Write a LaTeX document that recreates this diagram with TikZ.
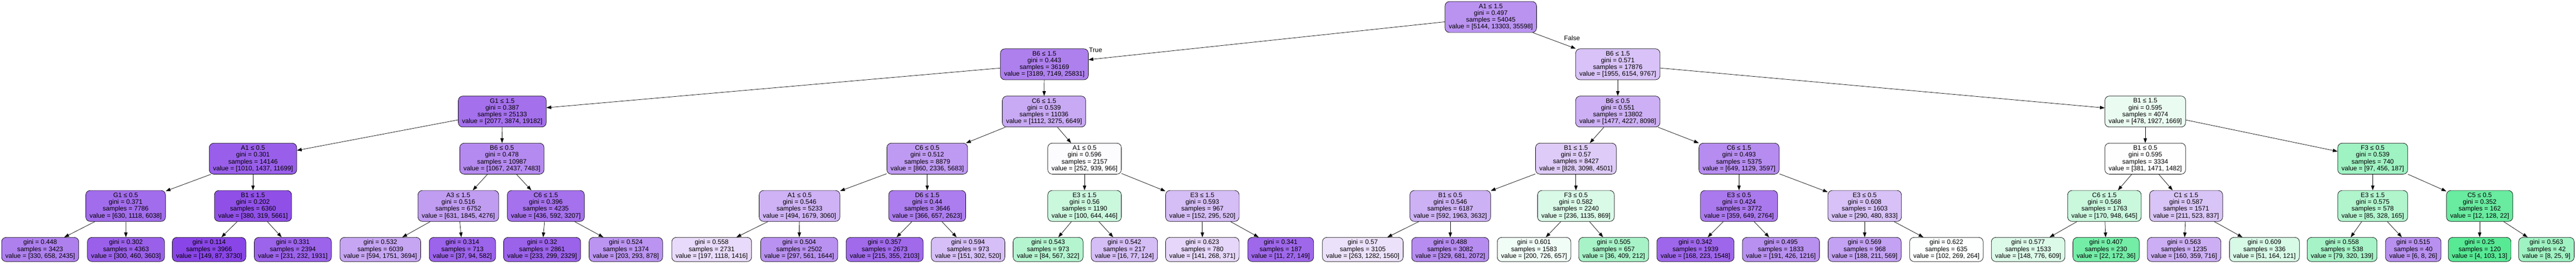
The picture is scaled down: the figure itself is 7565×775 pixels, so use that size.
\documentclass[tikz,border=0pt]{standalone}
\usepackage{fontspec}
\setmainfont{Liberation Sans}
\usetikzlibrary{arrows.meta}
\definecolor{clsA}{RGB}{229,129,57}
\definecolor{clsB}{RGB}{57,229,129}
\definecolor{clsC}{RGB}{129,57,229}
\tikzset{
  vals/.code args={#1/#2/#3}{%
    \edef\vmax{\fpeval{max(#1,#2,#3)}}%
    \edef\vmid{\fpeval{#1+#2+#3-max(#1,#2,#3)-min(#1,#2,#3)}}%
    \edef\vpct{\fpeval{round(100*(\vmax-\vmid)/(#1+#2+#3-\vmid),2)}}%
    \ifnum\fpeval{#1>=max(#2,#3)}=1 \def\vcls{clsA}\else
      \ifnum\fpeval{#2>=#3}=1 \def\vcls{clsB}\else\def\vcls{clsC}\fi\fi
    \edef\vtmp{\noexpand\pgfkeysalso{fill=\vcls!\vpct!white}}\vtmp},
  treebox/.style={draw=black, line width=1.1pt, rounded corners=13pt,
    align=center, inner xsep=11pt, inner ysep=0pt,
    font=\fontsize{19}{20}\selectfont},
  inode/.style={treebox, minimum height=91pt},
  leafbox/.style={treebox, minimum height=71pt},
  edge/.style={line width=1.1pt, -{Triangle[length=14pt,width=10pt]}},
  lbl/.style={font=\fontsize{19}{20}\selectfont, inner sep=0pt}
}
\newcommand\TreeSplit[9]{\node[inode,vals=#7/#8/#9] (#1) at (#2,#3)
  {#4\\gini = #5\\samples = #6\\value = [#7, #8, #9]};}
\newcommand\TreeLeaf[7]{\node[leafbox,vals=#5/#6/#7] (#1) at (#2,733.5)
  {gini = #3\\samples = #4\\value = [#5, #6, #7]};}
\begin{document}
\begin{tikzpicture}[x=1pt,y=-1pt]
\useasboundingbox (0,0) rectangle (7565,775);
% level 0-2
\TreeSplit{n0}{4378}{50}{A1 ≤ 1.5}{0.497}{54045}{5144}{13303}{35598}
\TreeSplit{n1}{3067}{189}{B6 ≤ 1.5}{0.443}{36169}{3189}{7149}{25831}
\TreeSplit{n2}{4751}{189}{B6 ≤ 1.5}{0.571}{17876}{1955}{6154}{9767}
\TreeSplit{n11}{1475}{328}{G1 ≤ 1.5}{0.387}{25133}{2077}{3874}{19182}
\TreeSplit{n12}{3066}{328}{C6 ≤ 1.5}{0.539}{11036}{1112}{3275}{6649}
\TreeSplit{n21}{4751}{328}{B6 ≤ 0.5}{0.551}{13802}{1477}{4227}{8098}
\TreeSplit{n22}{6300}{328}{B1 ≤ 1.5}{0.595}{4074}{478}{1927}{1669}
% level 3
\TreeSplit{n111}{743}{466.5}{A1 ≤ 0.5}{0.301}{14146}{1010}{1437}{11699}
\TreeSplit{n112}{1474}{466.5}{B6 ≤ 0.5}{0.478}{10987}{1067}{2437}{7483}
\TreeSplit{n121}{2723}{466.5}{C6 ≤ 0.5}{0.512}{8879}{860}{2336}{5683}
\TreeSplit{n122}{3185}{466.5}{A1 ≤ 0.5}{0.596}{2157}{252}{939}{966}
\TreeSplit{n211}{4628}{466.5}{B1 ≤ 1.5}{0.57}{8427}{828}{3098}{4501}
\TreeSplit{n212}{5107}{466.5}{C6 ≤ 1.5}{0.493}{5375}{649}{1129}{3597}
\TreeSplit{n221}{6300}{466.5}{B1 ≤ 0.5}{0.595}{3334}{381}{1471}{1482}
\TreeSplit{n222}{6968}{466.5}{F3 ≤ 0.5}{0.539}{740}{97}{456}{187}
% level 4
\TreeSplit{n1111}{369}{605.5}{G1 ≤ 0.5}{0.371}{7786}{630}{1118}{6038}
\TreeSplit{n1112}{743}{605.5}{B1 ≤ 1.5}{0.202}{6360}{380}{319}{5661}
\TreeSplit{n1121}{1346}{605.5}{A3 ≤ 1.5}{0.516}{6752}{631}{1845}{4276}
\TreeSplit{n1122}{1603}{605.5}{C6 ≤ 1.5}{0.396}{4235}{436}{592}{3207}
\TreeSplit{n1211}{2348}{605.5}{A1 ≤ 0.5}{0.546}{5233}{494}{1679}{3060}
\TreeSplit{n1212}{2723}{605.5}{D6 ≤ 1.5}{0.44}{3646}{366}{657}{2623}
\TreeSplit{n1221}{3185}{605.5}{E3 ≤ 1.5}{0.56}{1190}{100}{644}{446}
\TreeSplit{n1222}{3531}{605.5}{E3 ≤ 1.5}{0.593}{967}{152}{295}{520}
\TreeSplit{n2111}{4259}{605.5}{B1 ≤ 0.5}{0.546}{6187}{592}{1963}{3632}
\TreeSplit{n2112}{4628}{605.5}{F3 ≤ 0.5}{0.582}{2240}{236}{1135}{869}
\TreeSplit{n2121}{5107}{605.5}{E3 ≤ 0.5}{0.424}{3772}{359}{649}{2764}
\TreeSplit{n2122}{5476}{605.5}{E3 ≤ 0.5}{0.608}{1603}{290}{480}{833}
\TreeSplit{n2211}{6180}{605.5}{C6 ≤ 1.5}{0.568}{1763}{170}{948}{645}
\TreeSplit{n2212}{6420}{605.5}{C1 ≤ 1.5}{0.587}{1571}{211}{523}{837}
\TreeSplit{n2221}{6968}{605.5}{E3 ≤ 1.5}{0.575}{578}{85}{328}{165}
\TreeSplit{n2222}{7282}{605.5}{C5 ≤ 0.5}{0.352}{162}{12}{128}{22}
% leaves
\TreeLeaf{l1}{118}{0.448}{3423}{330}{658}{2435}
\TreeLeaf{l2}{370}{0.302}{4363}{300}{460}{3603}
\TreeLeaf{l3}{614}{0.114}{3966}{149}{87}{3730}
\TreeLeaf{l4}{860}{0.331}{2394}{231}{232}{1931}
\TreeLeaf{l5}{1117}{0.532}{6039}{594}{1751}{3694}
\TreeLeaf{l6}{1358}{0.314}{713}{37}{94}{582}
\TreeLeaf{l7}{1592}{0.32}{2861}{233}{299}{2329}
\TreeLeaf{l8}{1838}{0.524}{1374}{203}{293}{878}
\TreeLeaf{l9}{2090}{0.558}{2731}{197}{1118}{1416}
\TreeLeaf{l10}{2347}{0.504}{2502}{297}{561}{1644}
\TreeLeaf{l11}{2598}{0.357}{2673}{215}{355}{2103}
\TreeLeaf{l12}{2843}{0.594}{973}{151}{302}{520}
\TreeLeaf{l13}{3078}{0.543}{973}{84}{567}{322}
\TreeLeaf{l14}{3302}{0.542}{217}{16}{77}{124}
\TreeLeaf{l15}{3531}{0.623}{780}{141}{268}{371}
\TreeLeaf{l16}{3761}{0.341}{187}{11}{27}{149}
\TreeLeaf{l17}{4002}{0.57}{3105}{263}{1282}{1560}
\TreeLeaf{l18}{4259}{0.488}{3082}{329}{681}{2072}
\TreeLeaf{l19}{4505}{0.601}{1583}{200}{726}{657}
\TreeLeaf{l20}{4739}{0.505}{657}{36}{409}{212}
\TreeLeaf{l21}{4979}{0.342}{1939}{168}{223}{1548}
\TreeLeaf{l22}{5230}{0.495}{1833}{191}{426}{1216}
\TreeLeaf{l23}{5476}{0.569}{968}{188}{211}{569}
\TreeLeaf{l24}{5716}{0.622}{635}{102}{269}{264}
\TreeLeaf{l25}{5956}{0.577}{1533}{148}{776}{609}
\TreeLeaf{l26}{6185}{0.407}{230}{22}{172}{36}
\TreeLeaf{l27}{6414}{0.563}{1235}{160}{359}{716}
\TreeLeaf{l28}{6650}{0.609}{336}{51}{164}{121}
\TreeLeaf{l29}{6878}{0.558}{538}{79}{320}{139}
\TreeLeaf{l30}{7087}{0.515}{40}{6}{8}{26}
\TreeLeaf{l31}{7282}{0.25}{120}{4}{103}{13}
\TreeLeaf{l32}{7478}{0.563}{42}{8}{25}{9}
% edge labels
\node[lbl] (ltrue) at (3217.5,147) {True};
\node[lbl] (lfalse) at (4616.5,112.5) {False};
% edges
\foreach \a/\b in {n0/n1,n0/n2,n1/n11,n1/n12,n2/n21,n2/n22,
  n11/n111,n11/n112,n12/n121,n12/n122,n21/n211,n21/n212,n22/n221,n22/n222,
  n111/n1111,n111/n1112,n112/n1121,n112/n1122,n121/n1211,n121/n1212,
  n122/n1221,n122/n1222,n211/n2111,n211/n2112,n212/n2121,n212/n2122,
  n221/n2211,n221/n2212,n222/n2221,n222/n2222,
  n1111/l1,n1111/l2,n1112/l3,n1112/l4,n1121/l5,n1121/l6,n1122/l7,n1122/l8,
  n1211/l9,n1211/l10,n1212/l11,n1212/l12,n1221/l13,n1221/l14,n1222/l15,n1222/l16,
  n2111/l17,n2111/l18,n2112/l19,n2112/l20,n2121/l21,n2121/l22,n2122/l23,n2122/l24,
  n2211/l25,n2211/l26,n2212/l27,n2212/l28,n2221/l29,n2221/l30,n2222/l31,n2222/l32}
  \draw[edge] (\a) -- (\b);
\end{tikzpicture}
\end{document}
